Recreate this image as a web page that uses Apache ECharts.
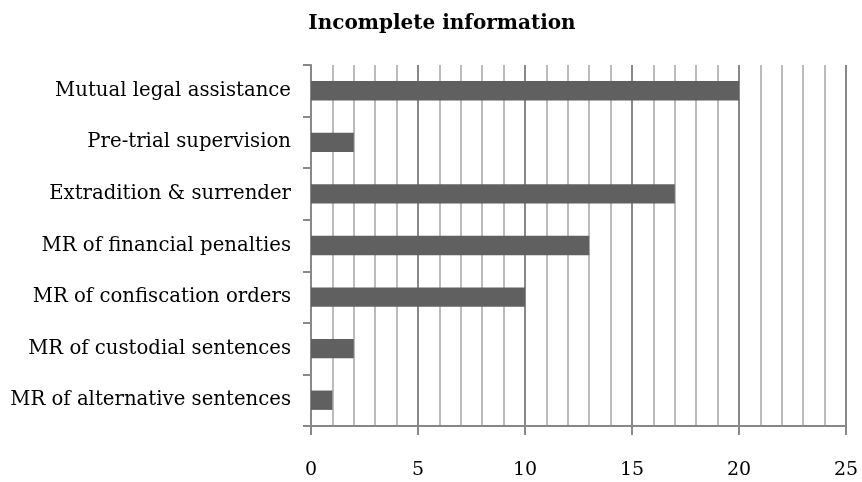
<!DOCTYPE html>
<html>
<head>
<meta charset="utf-8">
<script src="https://cdn.jsdelivr.net/npm/echarts@6/dist/echarts.min.js"></script>
<style>
  html, body { margin: 0; padding: 0; background: #fff; }
  #chart { width: 862px; height: 482px; }
</style>
</head>
<body>
<div id="chart"></div>
<script>
// Measures with incomplete information, listed top to bottom
const categories = [
  'Mutual legal assistance',
  'Pre-trial supervision',
  'Extradition & surrender',
  'MR of financial penalties',
  'MR of confiscation orders',
  'MR of custodial sentences',
  'MR of alternative sentences'
];
const counts = [20, 2, 17, 13, 10, 2, 1];
const axisMin = 0;
const axisMax = 25;
const axisStep = 5;

const FONT = '"DejaVu Serif", "Liberation Serif", serif';

const chart = echarts.init(document.getElementById('chart'), null, { renderer: 'canvas' });
chart.setOption({
  animation: false,
  backgroundColor: '#ffffff',
  title: {
    text: 'Incomplete information',
    left: 437,
    textAlign: 'center',
    top: 9,
    textStyle: { fontFamily: FONT, fontWeight: 'bold', fontSize: 20, color: '#000' }
  },
  grid: { left: 311, right: 16, top: 65, bottom: 56, containLabel: false },
  xAxis: {
    type: 'value',
    min: axisMin,
    max: axisMax,
    interval: axisStep,
    axisLine: { show: true, lineStyle: { color: '#888888', width: 2 } },
    axisTick: { show: true, length: 9, lineStyle: { color: '#888888', width: 2 } },
    axisLabel: { margin: 35, fontFamily: FONT, fontSize: 19, color: '#000' },
    splitLine: { show: true, lineStyle: { color: '#888888', width: 2 } },
    minorTick: { show: false, splitNumber: 5 },
    minorSplitLine: { show: true, lineStyle: { color: '#bbbbbb', width: 2 } }
  },
  yAxis: {
    type: 'category',
    data: categories,
    inverse: true,
    axisLine: { show: true, lineStyle: { color: '#888888', width: 2 } },
    axisTick: { show: true, length: 8, lineStyle: { color: '#888888', width: 2 } },
    axisLabel: { margin: 20, fontFamily: FONT, fontSize: 19.7, color: '#000' },
    splitLine: { show: false }
  },
  series: [{
    type: 'bar',
    data: counts,
    barWidth: '37.5%',
    itemStyle: { color: '#606060' }
  }]
});
</script>
</body>
</html>
